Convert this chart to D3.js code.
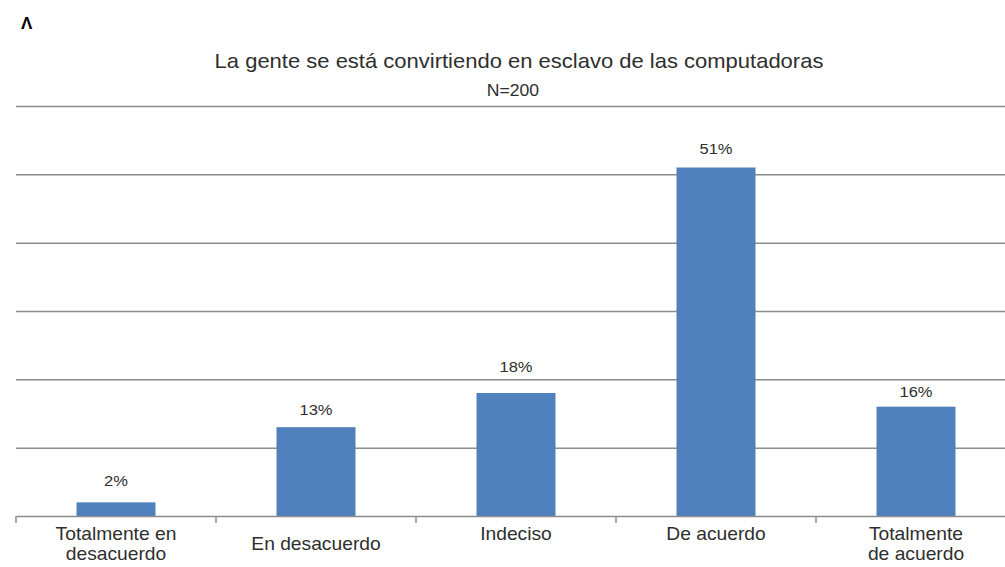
<!DOCTYPE html>
<html>
<head>
<meta charset="utf-8">
<script src="https://cdn.jsdelivr.net/npm/d3@7"></script>
<style>
  html, body { margin: 0; padding: 0; background: #fff; }
  svg { display: block; }
  text { font-family: "Liberation Sans", Arial, sans-serif; fill: #2e2e2e; }
</style>
</head>
<body>
<svg id="chart" width="1005" height="567"></svg>
<script>
// ---- data ----
const categories = ["Totalmente en desacuerdo", "En desacuerdo", "Indeciso", "De acuerdo", "Totalmente de acuerdo"];
const labelLines = [["Totalmente en", "desacuerdo"], ["En desacuerdo"], ["Indeciso"], ["De acuerdo"], ["Totalmente", "de acuerdo"]];
const values = [2, 13, 18, 51, 16];
const yTicks = [0, 10, 20, 30, 40, 50, 60];
const title = "La gente se está convirtiendo en esclavo de las computadoras";
const subtitle = "N=200";
const corner = "Λ";

// ---- layout ----
(function () {
const svg = d3.select("#chart");
const mLeft = 16, mRight = 1016, mTop = 106, mBottom = 516;
const sx = 1.1; // horizontal stretch of the source image text
const labelGap = [16, 12, 21, 14, 10]; // px between bar top and its value label baseline

const x = d3.scaleBand().domain(categories).range([mLeft, mRight]).paddingInner(0.605).paddingOuter(0.3025);
const xb = d3.scaleBand().domain(categories).range([mLeft, mRight]);
const y = d3.scaleLinear().domain([0, 60]).range([mBottom, mTop]);

function stext(g, tx, ty, str, size, weight) {
  return g.append("text")
    .attr("transform", `translate(${tx},${ty}) scale(${sx},1)`)
    .attr("text-anchor", "middle")
    .style("font-size", size + "px")
    .style("font-weight", weight || "normal")
    .text(str);
}

// gridlines
const grid = d3.axisLeft(y).tickValues(yTicks.slice(1)).tickSize(-(mRight - mLeft)).tickFormat("");
svg.append("g").attr("transform", `translate(${mLeft},0)`).call(grid)
  .call(g => g.select(".domain").remove())
  .call(g => g.selectAll("line").attr("stroke", "#8c8c8c").attr("stroke-width", 1.5));

// bars
svg.append("g").selectAll("rect").data(values).join("rect")
  .attr("x", (d, i) => x(categories[i]))
  .attr("width", x.bandwidth())
  .attr("y", d => y(d))
  .attr("height", d => y(0) - y(d))
  .attr("fill", "#4f81bd");

// value labels
const vl = svg.append("g");
values.forEach((d, i) => {
  stext(vl, x(categories[i]) + x.bandwidth() / 2, y(d) - labelGap[i], d + "%", 15);
});

// x axis
const xAxis = d3.axisBottom(xb).tickSize(0).tickFormat("");
const ax = svg.append("g").attr("transform", `translate(0,${mBottom})`).call(xAxis);
ax.select(".domain").attr("stroke", "#8c8c8c").attr("stroke-width", 1.5);
ax.selectAll(".bdry").data(categories.concat(["end"])).join("line")
  .attr("class", "bdry")
  .attr("x1", (d, i) => mLeft + i * xb.step()).attr("x2", (d, i) => mLeft + i * xb.step())
  .attr("y1", 0).attr("y2", 7).attr("stroke", "#8c8c8c").attr("stroke-width", 1.5);

// category labels
const cl = svg.append("g");
labelLines.forEach((lines, i) => {
  const cx = xb(categories[i]) + xb.bandwidth() / 2;
  const offset = (i === 1) ? 10 : 0;
  lines.forEach((ln, j) => stext(cl, cx, 540 + offset + j * 20, ln, 17.5));
});

// titles
stext(svg, 519, 68, title, 20);
stext(svg, 513, 96, subtitle, 16);
svg.append("text").attr("x", 21).attr("y", 29).style("font-size", "17px").style("font-weight", "bold")
  .style("fill", "#000").text(corner);
})();
</script>
</body>
</html>
